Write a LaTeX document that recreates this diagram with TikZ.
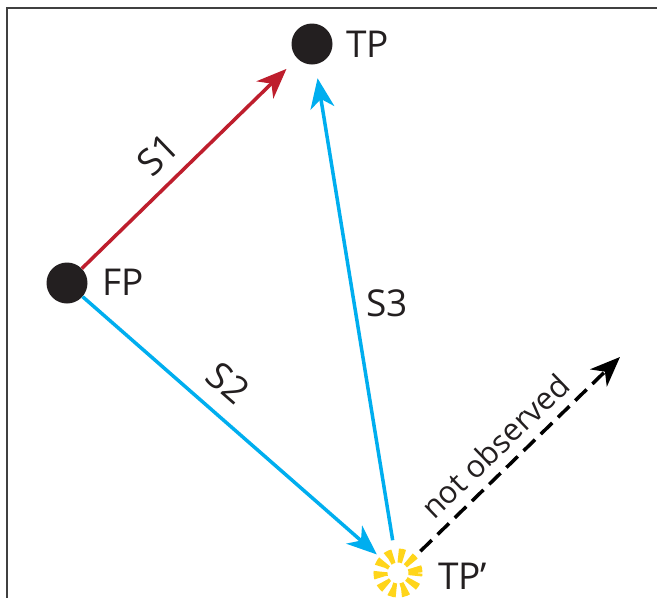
\documentclass[tikz,border=0pt]{standalone}
\usepackage{fontspec}
\setmainfont{Open Sans}
\usetikzlibrary{arrows.meta,calc}
\definecolor{cred}{HTML}{BE1E2D}
\definecolor{cblue}{HTML}{00AEEF}
\definecolor{cyellow}{HTML}{FFD51A}
\definecolor{cdot}{HTML}{231F20}
\tikzset{
  dot/.style={circle,fill=cdot,minimum size=41pt,inner sep=0pt},
  burstnode/.style={circle,minimum size=50pt,inner sep=0pt},
  conn/.style={line width=3.5pt,-{Stealth[length=30pt,width=24pt,inset=9pt]}},
  lbl/.style={font=\fontsize{37}{40}\selectfont,text=cdot,inner sep=0pt},
  small/.style={font=\fontsize{31}{34}\selectfont,text=cdot,inner sep=0pt},
}
\begin{document}
\begin{tikzpicture}[x=1pt,y=-1pt]
\useasboundingbox (0,0) rectangle (657,598);
\fill[white] (0,0) rectangle (657,598);
\draw[line width=2pt,black!75] (7,598) -- (7,8) -- (657,8);

\node[dot] (TP) at (312,44) {};
\node[dot] (FP) at (67,283) {};
\node[burstnode] (TPp) at (398,573) {};
\draw[cyellow,line width=14pt,dash pattern=on 5.8pt off 4.9pt] (TPp.center) circle[radius=17.5pt];
\coordinate (NO) at (620,357);

\draw[conn,cred,shorten >=15pt] (FP) -- (TP);
\draw[conn,cblue,shorten >=14pt,shorten <=8pt] (TPp) -- (TP);
\draw[conn,cblue,shorten >=3pt] (FP) -- (TPp);
\draw[conn,black,dash pattern=on 16pt off 8pt,shorten <=6pt] (TPp) -- (NO);

\node[lbl,anchor=west] (tTP) at (346,44) {TP};
\node[lbl,anchor=west] (tFP) at (102,282) {FP};
\node[lbl,anchor=west] (tTPp) at (438,576) {TP’};
\node[lbl,rotate=44] (tS1) at (158,155) {S1};
\node[lbl,rotate=-41] (tS2) at (228,383) {S2};
\node[lbl] (tS3) at (387,303) {S3};
\node[small,rotate=44] (tNO) at (495,446) {not observed};
\end{tikzpicture}
\end{document}
